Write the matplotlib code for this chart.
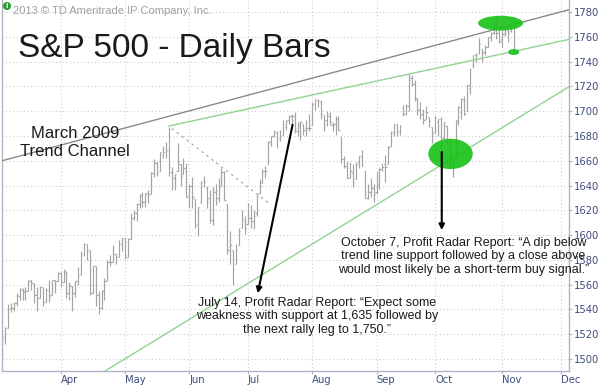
import numpy as np
import pandas as pd
import matplotlib
matplotlib.use("Agg")
import matplotlib.pyplot as plt
from matplotlib.patches import Ellipse

# ---------------- data (S&P 500 daily OHLC, Mar 1 - Nov 7, 2013) ----------------
holidays = ["2013-03-29", "2013-05-27", "2013-07-04", "2013-09-02", "2013-11-28"]
calendar = pd.bdate_range("2013-03-01", "2013-12-31")
calendar = calendar[~calendar.isin(pd.to_datetime(holidays))]

opens = [
    1514,1518,1525,1541,1541,1545,1551,1556,1554,1555,1564,1560,1552,1549,1558,1546,1556,1552,1564,1563,
    1569,1562,1571,1553,1559,1553,1563,1568,1585,1593,1588,1553,1575,1552,1541,1556,1563,1578,1578,1585,1582,1593,
    1598,1582,1597,1614,1618,1625,1632,1627,1632,1633,1649,1658,1652,1665,1667,1669,1651,1646,1652,1657,1649,1652,
    1632,1640,1629,1609,1626,1644,1638,1630,1612,1635,1630,1640,1651,1625,1590,1588,1577,1592,1606,1611,
    1609,1614,1611,1618,1634,1642,1652,1657,1676,1680,1683,1678,1681,1687,1693,1696,1696,1684,1688,1690,1686,1686,
    1689,1706,1709,1707,1697,1693,1696,1689,1690,1694,1679,1661,1656,1647,1650,1645,1659,1664,1652,1630,1635,1638,
    1635,1641,1653,1657,1657,1672,1682,1690,1684,1697,1698,1704,1727,1722,1711,1702,1698,1694,1695,1687,
    1682,1691,1694,1678,1688,1677,1657,1660,1691,1699,1708,1700,1719,1737,1745,1747,1750,1748,1752,1760,1763,1772,1763,
    1758,1763,1765,1765,1771,
]
highs = [
    1520,1526,1544,1545,1546,1553,1557,1557,1558,1564,1564,1561,1558,1559,1558,1557,1564,1564,1564,1570,
    1570,1573,1571,1562,1559,1563,1574,1587,1594,1593,1588,1575,1575,1555,1556,1565,1580,1584,1592,1585,1596,1598,
    1598,1598,1618,1620,1626,1633,1635,1634,1636,1651,1661,1660,1667,1672,1675,1687,1655,1649,1674,1657,1662,1658,
    1641,1647,1629,1623,1644,1648,1640,1636,1639,1641,1646,1654,1652,1625,1603,1588,1593,1606,1620,1615,
    1626,1624,1620,1632,1645,1653,1656,1676,1680,1685,1684,1685,1693,1693,1697,1698,1699,1691,1692,1690,1693,1698,
    1707,1710,1710,1709,1697,1700,1699,1691,1696,1696,1679,1664,1660,1659,1657,1659,1664,1669,1652,1641,1646,1641,
    1651,1654,1658,1665,1672,1684,1690,1690,1689,1705,1706,1730,1729,1725,1711,1707,1702,1704,1695,1687,
    1696,1694,1695,1691,1688,1677,1662,1693,1704,1711,1712,1721,1734,1745,1747,1759,1750,1753,1760,1764,1772,1775,1768,
    1766,1768,1767,1771,1775,
]
lows = [
    1501,1512,1525,1538,1539,1543,1548,1548,1548,1555,1556,1545,1539,1549,1543,1546,1546,1552,1553,1563,
    1558,1562,1549,1548,1539,1550,1560,1568,1583,1580,1552,1553,1543,1536,1540,1548,1563,1575,1578,1577,1582,1587,
    1581,1582,1597,1612,1611,1622,1623,1623,1626,1633,1647,1648,1652,1662,1662,1648,1636,1636,1652,1640,1649,1631,
    1622,1622,1606,1599,1626,1639,1622,1610,1608,1624,1627,1640,1628,1585,1577,1560,1577,1592,1606,1601,
    1609,1606,1605,1615,1634,1642,1646,1657,1672,1679,1670,1676,1681,1685,1690,1690,1682,1680,1677,1681,1680,1684,
    1689,1701,1703,1694,1684,1688,1689,1684,1681,1685,1658,1654,1646,1646,1639,1645,1654,1656,1630,1629,1631,1627,
    1633,1637,1652,1643,1657,1672,1680,1680,1681,1697,1698,1700,1720,1708,1697,1694,1690,1694,1687,1674,
    1682,1680,1670,1677,1674,1655,1647,1660,1689,1694,1697,1700,1714,1735,1740,1746,1740,1745,1752,1757,1762,1758,1755,
    1752,1761,1756,1764,1747,
]
closes = [
    1518,1525,1540,1541,1545,1552,1557,1555,1555,1563,1561,1552,1549,1558,1546,1556,1551,1564,1563,1569,
    1562,1570,1553,1559,1553,1563,1568,1585,1593,1588,1553,1575,1552,1541,1555,1563,1578,1578,1585,1582,1593,1598,
    1582,1597,1614,1618,1625,1632,1627,1634,1633,1650,1658,1650,1667,1667,1669,1655,1650,1649,1660,1648,1654,1631,
    1640,1631,1608,1623,1643,1643,1627,1612,1636,1626,1639,1651,1628,1588,1592,1573,1588,1603,1613,1606,
    1614,1614,1615,1632,1640,1652,1652,1675,1680,1683,1677,1680,1690,1692,1695,1693,1686,1690,1691,1685,1686,1686,
    1706,1710,1708,1698,1690,1698,1691,1689,1694,1685,1661,1656,1646,1652,1643,1657,1664,1656,1630,1635,1638,1633,
    1640,1653,1655,1655,1671,1683,1690,1683,1688,1698,1704,1725,1722,1710,1701,1698,1693,1699,1692,1682,
    1695,1694,1678,1691,1677,1656,1656,1693,1703,1710,1698,1721,1734,1745,1745,1754,1747,1752,1760,1763,1772,1763,1757,
    1762,1767,1763,1771,1748,
]
month_labels = ["Apr", "May", "Jun", "Jul", "Aug", "Sep", "Oct", "Nov", "Dec"]
y_ticks = list(range(1500, 1781, 20))

# annotation lines (trading-day index, price)
upper_channel = ([0, 194], [1660, 1782])
upper_green = ([57, 194], [1688, 1758])
lower_green = ([35, 194], [1490, 1720])
dashed_line = ([58, 91], [1686, 1626])
arrow_july = ((99.3, 1689), (87.4, 1553))
arrow_oct = ((150.3, 1667), (150.3, 1604))
ellipses = [  # center idx, center price, width (days), height (points)
    (153.3, 1665.5, 15.2, 24.5),
    (170.4, 1771.0, 15.4, 12.0),
    (174.9, 1747.7, 3.8, 4.8),
]

# ---------------- figure ----------------
W, H = 600, 385
fig = plt.figure(figsize=(W / 100, H / 100), dpi=100)
fig.patch.set_facecolor("white")
ax = fig.add_axes([1.5 / W, 14 / H, 567.5 / W, 371 / H])

n = len(closes)
dates = calendar[:n]
x = np.arange(n)

bar_color = "#a4a4a4"
ax.vlines(x, lows, highs, color=bar_color, lw=0.85, zorder=2)
ax.hlines(opens, x - 0.45, x, color=bar_color, lw=0.85, zorder=2)
ax.hlines(closes, x, x + 0.45, color=bar_color, lw=0.85, zorder=2)

ax.plot(*upper_channel, color="#8a8a8a", lw=1.0, zorder=3)
ax.plot(*upper_green, color="#93d293", lw=1.0, zorder=3)
ax.plot(*lower_green, color="#93d293", lw=1.0, zorder=3)
ax.plot(*dashed_line, color="#aaaaaa", lw=0.9, ls=(0, (2, 3)), zorder=3)

for cx, cy, w, h in ellipses:
    ax.add_patch(Ellipse((cx, cy), w, h, facecolor="#17c217", edgecolor="none",
                         alpha=0.9, zorder=4))

for start, end in (arrow_july, arrow_oct):
    ax.annotate("", xy=end, xytext=start,
                arrowprops=dict(arrowstyle="-|>", color="black", lw=1.5,
                                mutation_scale=8, shrinkA=0, shrinkB=0),
                zorder=5)

# axes styling
ax.set_xlim(-0.2, 193.8)
ax.set_ylim(1490.3, 1789.7)

cal_months = calendar.to_period("M")
month_pos = []
for m in ["2013-04", "2013-05", "2013-06", "2013-07", "2013-08", "2013-09",
          "2013-10", "2013-11", "2013-12"]:
    month_pos.append(int(np.argmax(cal_months == pd.Period(m, "M"))))
ax.set_xticks(month_pos)
ax.set_xticklabels(month_labels)
for lbl in ax.get_xticklabels():
    lbl.set_horizontalalignment("left")

ax.yaxis.tick_right()
ax.set_yticks(y_ticks)
ax.set_yticklabels([str(v) for v in y_ticks])

spine_col = "#b0b5c6"
lab_col = "#3e4d7c"
for s in ["left", "right", "bottom"]:
    ax.spines[s].set_color(spine_col)
    ax.spines[s].set_linewidth(1.0)
ax.spines["top"].set_visible(False)
ax.tick_params(axis="both", colors=spine_col, labelcolor=lab_col,
               labelsize=7.2, length=2.5, width=0.8, direction="out")
ax.tick_params(axis="x", pad=0.5)
ax.tick_params(axis="y", pad=0.8)
for lbl in ax.get_xticklabels() + ax.get_yticklabels():
    lbl.set_fontfamily("DejaVu Sans")

ax.grid(True, color="#cfcfcf", lw=0.8, ls=(0, (1, 2.2)), zorder=0)
ax.set_axisbelow(True)

# ---------------- texts ----------------
sans = ["Liberation Sans", "DejaVu Sans"]
fig.text(18 / W, 1 - 57 / H, "S&P 500 - Daily Bars", fontsize=24, family=sans,
         color="#1a1a1a", va="baseline", ha="left")
fig.text(13 / W, 1 - 11 / H, "2013 \u00a9 TD Ameritrade IP Company, Inc.", fontsize=8,
         family=sans, color="#a0a0a0", va="center", ha="left")
fig.add_artist(Ellipse((7 / W, 1 - 6 / H), 8 / W, 8 / H, transform=fig.transFigure,
                       facecolor="#2a9a2a", edgecolor="none"))
fig.text(7 / W, 1 - 6 / H, "i", fontsize=5, color="white", family="DejaVu Sans",
         ha="center", va="center", fontweight="bold")

fig.text(75 / W, 1 - 126 / H, "March 2009\nTrend Channel", fontsize=12, family=sans,
         color="#1a1a1a", ha="center", va="top", multialignment="center", linespacing=1.29)

fig.text(463.5 / W, 1 - 237 / H,
         "October 7, Profit Radar Report: \u201cA dip below\n"
         "trend line support followed by a close above\n"
         "would most likely be a short-term buy signal.\u201d",
         fontsize=9, family=sans, color="#1a1a1a", ha="center", va="top",
         multialignment="center", linespacing=1.16)
fig.text(317 / W, 1 - 297 / H,
         "July 14, Profit Radar Report: \u201cExpect some\n"
         "weakness with support at 1,635 followed by\n"
         "the next rally leg to 1,750.\u201d",
         fontsize=9, family=sans, color="#1a1a1a", ha="center", va="top",
         multialignment="center", linespacing=1.16)

fig.savefig("out.png", dpi=100)
